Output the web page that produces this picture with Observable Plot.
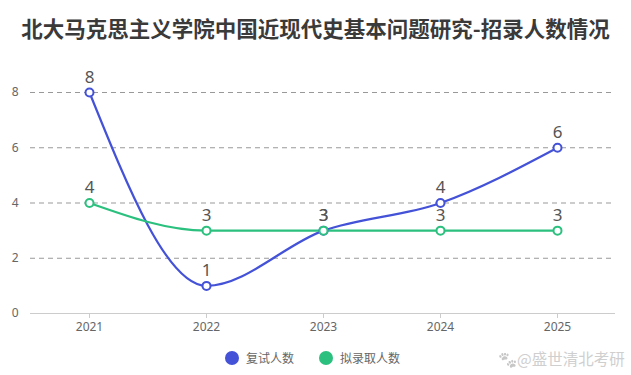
<!DOCTYPE html>
<html><head><meta charset="utf-8">
<script src="https://cdn.jsdelivr.net/npm/d3@7"></script>
<script src="https://cdn.jsdelivr.net/npm/@observablehq/plot@0.6"></script>
<style>
body{margin:0;background:#fff;font-family:"Noto Sans CJK SC","Noto Sans",sans-serif;}
#wrap{position:relative;width:631px;height:375px;overflow:hidden;}
#title{position:absolute;left:0;top:0;width:631px;height:50px;line-height:56px;text-align:center;font-size:21.5px;font-weight:bold;color:#3a3a3a;}
#chart{position:absolute;left:0;top:50px;}
#legend{position:absolute;left:0;top:340px;width:631px;height:35px;font-size:12px;color:#666;}
.li{position:absolute;top:9px;display:flex;align-items:center;}
.sw{width:14px;height:14px;border-radius:50%;display:inline-block;margin-right:7px;}
#wm{position:absolute;left:498px;top:7px;font-size:15.5px;color:#cfcfcf;}
#wm .paw{filter:grayscale(1);opacity:0.35;}
</style></head>
<body><div id="wrap"><div id="title"></div><div id="chart"></div><div id="legend"></div></div>
<script>
const titleText = "北大马克思主义学院中国近现代史基本问题研究-招录人数情况";
const years = ["2021","2022","2023","2024","2025"];
const retest = [8,1,3,4,6];
const admitted = [4,3,3,3,3];
const seriesNames = ["复试人数","拟录取人数"];
const colors = ["#4452d8","#2cc07f"];
const yTicks = [0,2,4,6,8];

document.getElementById("title").textContent = titleText;

const s1 = years.map((y,i)=>({year:y, value:retest[i]}));
const s2 = years.map((y,i)=>({year:y, value:admitted[i]}));

const lineOpts = c => ({x:"year", y:"value", stroke:c, strokeWidth:2.2, curve:"monotone-x"});
const dotOpts = c => ({x:"year", y:"value", r:4, fill:"white", stroke:c, strokeWidth:2});
const textOpts = {x:"year", y:"value", text:d=>String(d.value), dy:-15, fontSize:17, fill:"#555"};

const chart = Plot.plot({
  width:631, height:290,
  marginTop:42, marginBottom:27, marginLeft:30, marginRight:16,
  style:{fontFamily:"'Noto Sans', sans-serif", fontSize:"12px", color:"#666", background:"transparent"},
  x:{type:"point", domain:years, padding:0.5, label:null},
  y:{domain:[0,8], label:null},
  marks:[
    Plot.gridY([2,4,6,8], {stroke:"#999", strokeOpacity:1, strokeDasharray:"5,4"}),
    Plot.ruleY([0], {stroke:"#ccc", strokeWidth:1.2}),
    Plot.axisX({tickSize:5, tickPadding:4, stroke:"#ccc", fill:"#666", fontSize:12, label:null}),
    Plot.axisY({ticks:yTicks, tickSize:0, tickPadding:12, fill:"#666", fontSize:12, label:null}),
    Plot.line(s1, lineOpts(colors[0])),
    Plot.line(s2, lineOpts(colors[1])),
    Plot.dot(s1, dotOpts(colors[0])),
    Plot.dot(s2, dotOpts(colors[1])),
    Plot.text(s1, textOpts),
    Plot.text(s2, textOpts)
  ]
});
document.getElementById("chart").appendChild(chart);

const legend = document.getElementById("legend");
const lx = [225, 319];
seriesNames.forEach((n,i)=>{
  const d = document.createElement("div");
  d.className = "li"; d.style.left = lx[i]+"px";
  d.innerHTML = `<span class="sw" style="background:${colors[i]}"></span><span>${n}</span>`;
  legend.appendChild(d);
});
const wm = document.createElement("div");
wm.id = "wm"; wm.innerHTML = '<span class="paw">🐾</span>@盛世清北考研';
legend.appendChild(wm);
</script></body></html>
